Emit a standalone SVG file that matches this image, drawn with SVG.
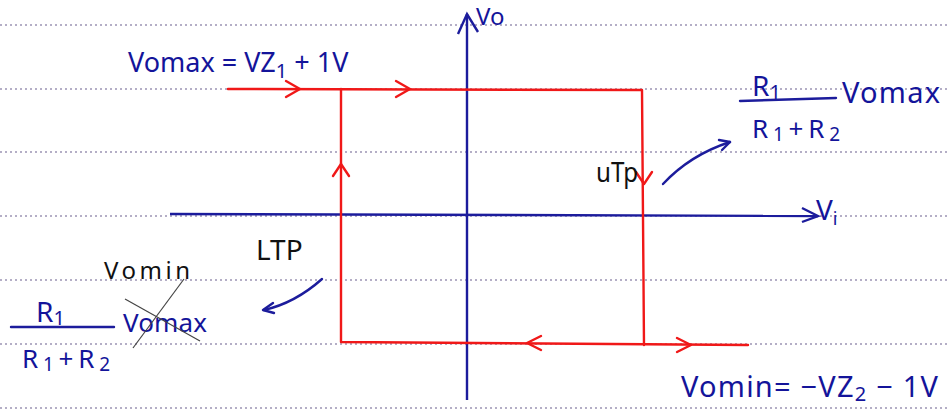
<svg xmlns="http://www.w3.org/2000/svg" width="948" height="414" viewBox="0 0 948 414">
<style>
.rule{stroke:#9c94b4;stroke-width:1.6;stroke-dasharray:2 3;fill:none}
.axis{stroke:#1c1c9c;stroke-width:2.4;fill:none}
.loop{stroke:#f01818;stroke-width:2.4;fill:none;stroke-linecap:round;stroke-linejoin:round}
.chev{stroke:#f01818;stroke-width:2.4;fill:none;stroke-linecap:round;stroke-linejoin:round}
.note{stroke:#1c1c9c;stroke-width:2.4;fill:none;stroke-linecap:round;stroke-linejoin:round}
.cross{stroke:#444;stroke-width:1.2;fill:none}
.b{font-family:"Noto Sans","Liberation Sans",sans-serif;fill:#14149a}
.k{font-family:"Noto Sans","Liberation Sans",sans-serif;fill:#111}
</style>
<rect width="948" height="414" fill="#fff"/>
<g id="rules">
<line class="rule" x1="0" y1="25" x2="948" y2="25"/>
<line class="rule" x1="0" y1="89" x2="948" y2="89"/>
<line class="rule" x1="0" y1="152" x2="948" y2="152"/>
<line class="rule" x1="0" y1="216" x2="948" y2="216"/>
<line class="rule" x1="0" y1="280" x2="948" y2="280"/>
<line class="rule" x1="0" y1="344" x2="948" y2="344"/>
<line class="rule" x1="0" y1="408" x2="948" y2="408"/>
</g>
<g id="axes">
<path class="axis" d="M467 14 L467 400"/>
<path class="axis" d="M458 34 L467 14 L478 32"/>
<text class="b" x="476" y="25" font-size="24">Vo</text>
<path class="axis" d="M170 214 L818 216"/>
<path class="axis" d="M802 208 L818 216 L802 222"/>
<text class="b" x="816" y="220" font-size="28">V<tspan font-size="18" dy="5">i</tspan></text>
</g>
<g id="connectors">
<path class="loop" d="M228 89 L642 90 L644 345"/>
<path class="loop" d="M341 89 L341 342 L748 345"/>
<path class="chev" d="M286 81 L300 89 L286 97"/>
<path class="chev" d="M396 81 L410 89 L396 97"/>
<path class="chev" d="M333 176 L341 164 L349 176"/>
<path class="chev" d="M636 172 L644 184 L652 172"/>
<path class="chev" d="M541 336 L527 343 L541 350"/>
<path class="chev" d="M677 338 L691 345 L677 352"/>
<path class="note" d="M663 184 Q690 155 730 142"/>
<path class="note" d="M719 140 L730 142 L722 150"/>
<path class="note" d="M322 279 Q295 303 264 310"/>
<path class="note" d="M273 303 L263 310 L274 313"/>
</g>
<g id="vomax">
<text class="b" x="128" y="72" font-size="27">Vomax = VZ<tspan font-size="20" dy="6">1</tspan><tspan dy="-6"> + 1V</tspan></text>
</g>
<g id="utp">
<text class="k" x="596" y="182" font-size="28" textLength="42" lengthAdjust="spacingAndGlyphs">uTp</text>
</g>
<g id="utp-value">
<text class="b" x="752" y="96" font-size="28">R<tspan font-size="20" dy="3">1</tspan></text>
<line class="note" x1="740" y1="101" x2="836" y2="98"/>
<text class="b" x="752" y="138" font-size="26" textLength="88">R<tspan font-size="19" dy="3">1</tspan><tspan dy="-3">+R</tspan><tspan font-size="19" dy="3">2</tspan></text>
<text class="b" x="842" y="103" font-size="29" textLength="98">Vomax</text>
</g>
<g id="ltp">
<text class="k" x="256" y="260" font-size="28">LTP</text>
</g>
<g id="ltp-value">
<text class="b" x="36" y="322" font-size="28">R<tspan font-size="20" dy="3">1</tspan></text>
<line class="note" x1="11" y1="327" x2="114" y2="327"/>
<text class="b" x="22" y="368" font-size="26" textLength="88">R<tspan font-size="19" dy="3">1</tspan><tspan dy="-3">+R</tspan><tspan font-size="19" dy="3">2</tspan></text>
<text class="b" x="123" y="332" font-size="26" textLength="84">Vomax</text>
<text class="k" x="104" y="279" font-size="24" textLength="86">Vomin</text>
<path class="cross" d="M184 279 L133 348"/>
<path class="cross" d="M125 299 L200 341"/>
</g>
<g id="vomin">
<text class="b" x="681" y="397" font-size="29" textLength="257">Vomin= −VZ<tspan font-size="20" dy="4">2</tspan><tspan dy="-4"> − 1V</tspan></text>
</g>
</svg>
